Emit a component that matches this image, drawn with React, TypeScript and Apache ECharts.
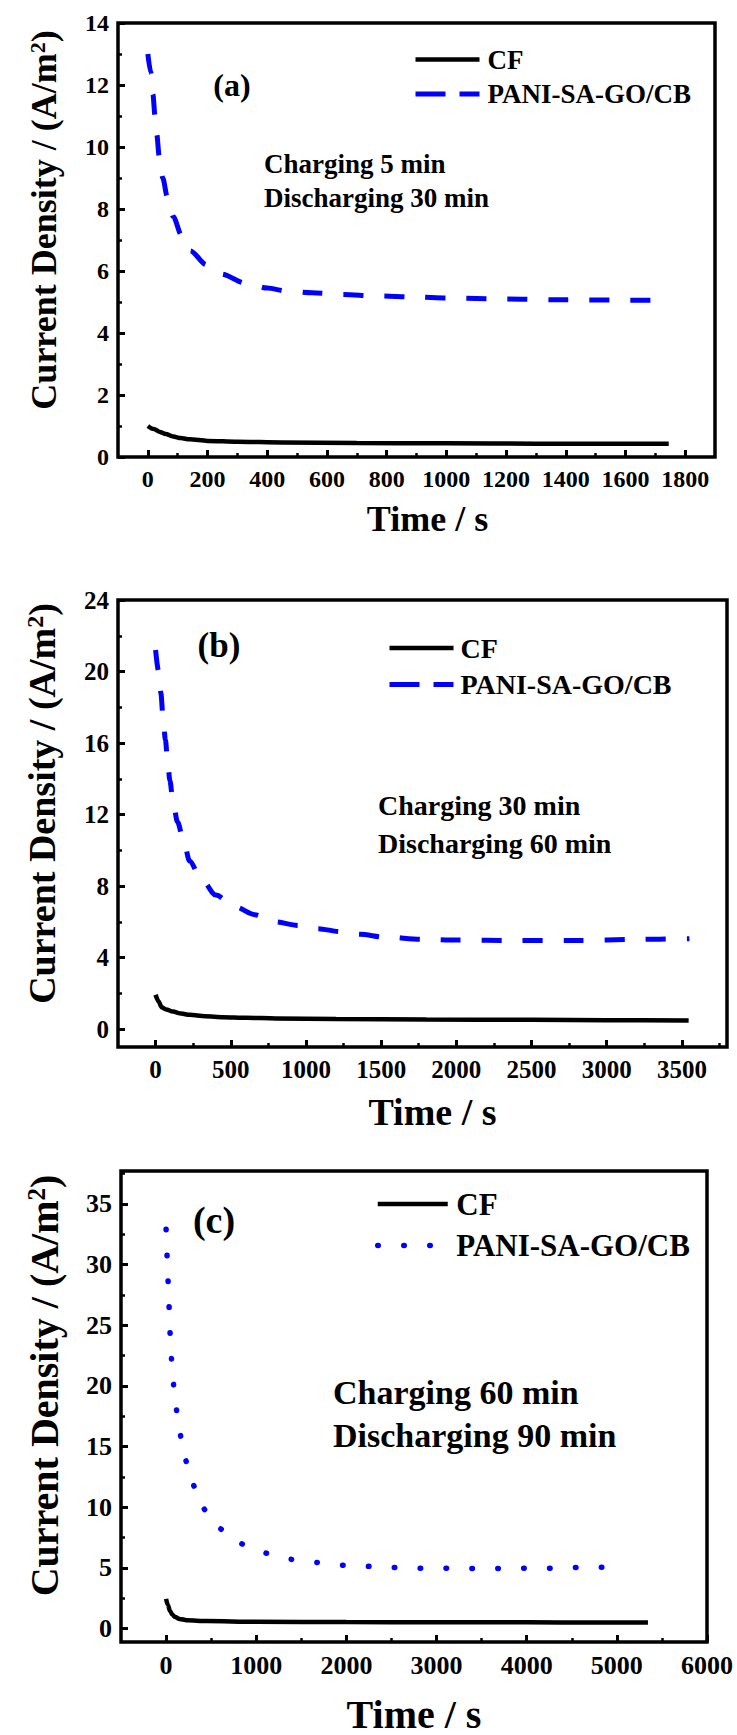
import React, { useEffect, useRef } from "react";
import * as echarts from "echarts";

// ---------- data ----------
// Panel (a): charging 5 min / discharging 30 min
const aCfT = [0, 20, 40, 60, 85, 110, 140, 200, 300, 450, 700, 1000, 1300, 1745];
const aCfY = [1.0, 0.9, 0.81, 0.74, 0.66, 0.61, 0.57, 0.52, 0.49, 0.47, 0.45, 0.44, 0.43, 0.43];
const aPaniT = [0, 10, 17, 24, 30, 38, 50, 65, 85, 113, 142, 197, 245, 330, 400, 466, 550, 650, 766, 900, 1000, 1200, 1400, 1600, 1745];
const aPaniY = [13.0, 12.4, 11.7, 11.0, 10.4, 9.7, 9.0, 8.4, 7.75, 7.15, 6.65, 6.2, 5.9, 5.6, 5.45, 5.35, 5.3, 5.24, 5.2, 5.16, 5.13, 5.1, 5.07, 5.06, 5.06];

// Panel (b): charging 30 min / discharging 60 min
const bCfT = [0, 20, 40, 70, 115, 170, 226, 330, 450, 600, 800, 1200, 1800, 2500, 3000, 3545];
const bCfY = [1.92, 1.55, 1.22, 1.1, 0.98, 0.87, 0.8, 0.72, 0.67, 0.63, 0.6, 0.57, 0.54, 0.52, 0.5, 0.48];
const bPaniT = [0, 20, 35, 50, 65, 80, 95, 115, 145, 185, 226, 300, 400, 525, 660, 790, 950, 1080, 1225, 1360, 1520, 1780, 2000, 2400, 2800, 3200, 3550];
const bPaniY = [21.2, 20.0, 18.8, 17.4, 16.2, 15.0, 13.9, 12.8, 11.6, 10.6, 9.4, 8.45, 7.5, 6.85, 6.4, 6.0, 5.8, 5.62, 5.45, 5.3, 5.15, 5.02, 4.98, 4.96, 4.96, 5.02, 5.06];

// Panel (c): charging 60 min / discharging 90 min
const cCfT = [0, 20, 44, 70, 100, 150, 230, 450, 1000, 2000, 3000, 4000, 4770, 5345];
const cCfY = [2.45, 1.95, 1.45, 1.15, 0.95, 0.8, 0.7, 0.62, 0.56, 0.54, 0.53, 0.52, 0.51, 0.5];
const cPaniT = [0, 11, 22, 33, 44, 59, 81, 114, 158, 214, 295, 408, 565, 815, 1087, 1375, 1662, 1950, 2240, 2525, 2812, 3100, 3400, 3700, 4000, 4250, 4540, 4825, 5115];
const cPaniY = [32.9, 30.7, 28.7, 26.6, 24.4, 22.3, 20.25, 18.1, 16.0, 14.0, 12.0, 10.0, 8.45, 7.06, 6.26, 5.72, 5.46, 5.23, 5.14, 5.04, 4.98, 4.97, 4.96, 4.96, 4.97, 4.98, 5.03, 5.06, 5.08];

// tick values
const aXTicks = [0, 200, 400, 600, 800, 1000, 1200, 1400, 1600, 1800];
const aXMinor = [100, 300, 500, 700, 900, 1100, 1300, 1500, 1700];
const aYTicks = [0, 2, 4, 6, 8, 10, 12, 14];
const aYMinor = [1, 3, 5, 7, 9, 11, 13];
const bXTicks = [0, 500, 1000, 1500, 2000, 2500, 3000, 3500];
const bXMinor = [250, 750, 1250, 1750, 2250, 2750, 3250, 3750];
const bYTicks = [0, 4, 8, 12, 16, 20, 24];
const bYMinor = [2, 6, 10, 14, 18, 22];
const cXTicks = [0, 1000, 2000, 3000, 4000, 5000, 6000];
const cXMinor = [500, 1500, 2500, 3500, 4500, 5500];
const cYTicks = [0, 5, 10, 15, 20, 25, 30, 35];
const cYMinor = [2.5, 7.5, 12.5, 17.5, 22.5, 27.5, 32.5, 37.5];

const names = ["CF", "PANI-SA-GO/CB"];
const panelTags = ["(a)", "(b)", "(c)"];
const notes = [
  ["Charging 5 min", "Discharging 30 min"],
  ["Charging 30 min", "Discharging 60 min"],
  ["Charging 60 min", "Discharging 90 min"],
];

const zip = (t: number[], y: number[]) => t.map((v, i) => [v, y[i]]);

const FONT = "Liberation Serif, Times New Roman, serif";
const BLUE = "#0000ff";
const DOT_PERIOD = 26;

const panels = [
  {
    grid: { left: 118, top: 23, width: 597, height: 434 },
    xMin: -100, xMax: 1900, yMin: 0, yMax: 14,
    xT: aXTicks, xM: aXMinor, yT: aYTicks, yM: aYMinor,
    cf: zip(aCfT, aCfY), pani: zip(aPaniT, aPaniY),
    tickFont: 24, titleFont: 36, xNameGap: 44, xNamePad: 22, yNameGap: 56, yShift: 40,
    legend: { left: 413, top: 46, font: 27, w: 64, gap: 7.5, pad: 3 },
    paniStyle: { type: [20, 21], width: 5, cap: "butt" },
    paniSmooth: 0.3 as any,
    legendPani: { type: [30, 14] },
    tag: { x: 232, y: 85, font: 32 },
    note: { x: 264, y1: 164, y2: 197.5, font: 27 },
  },
  {
    grid: { left: 118, top: 600, width: 609, height: 447 },
    xMin: -250, xMax: 3800, yMin: -1, yMax: 24,
    xT: bXTicks, xM: bXMinor, yT: bYTicks, yM: bYMinor,
    cf: zip(bCfT, bCfY), pani: zip(bPaniT, bPaniY),
    tickFont: 25, titleFont: 38, xNameGap: 46, xNamePad: 20, yNameGap: 57, yShift: 40,
    legend: { left: 387, top: 634, font: 28, w: 64, gap: 8.6, pad: 2 },
    paniStyle: { type: [20, 21], width: 5, cap: "butt" },
    paniSmooth: 0.3 as any,
    legendPani: { type: [30, 14] },
    tag: { x: 219, y: 645, font: 35 },
    note: { x: 378, y1: 805.5, y2: 843, font: 28 },
  },
  {
    grid: { left: 121, top: 1171, width: 586, height: 474 },
    xMin: -500, xMax: 6000, yMin: -1.1, yMax: 37.7,
    xT: cXTicks, xM: cXMinor, yT: cYTicks, yM: cYMinor,
    cf: zip(cCfT, cCfY), pani: zip(cPaniT, cPaniY),
    tickFont: 26, titleFont: 40, xNameGap: 52, xNamePad: 0, yNameGap: 57, yShift: 42,
    legend: { left: 375, top: 1188.5, font: 31, w: 70, gap: 10.4, pad: 3.5 },
    paniStyle: { type: [0.5, DOT_PERIOD - 0.5], width: 5.5, cap: "round" },
    paniSmooth: false as any,
    legendPani: { type: [0.5, DOT_PERIOD - 0.5], cap: "round" },
    tag: { x: 214, y: 1220, font: 38 },
    note: { x: 333, y1: 1392, y2: 1435.5, font: 34 },
  },
];

const plain = (v: number) => String(v);

function buildOption() {
  const grid: any[] = [];
  const xAxis: any[] = [];
  const yAxis: any[] = [];
  const series: any[] = [];
  const legend: any[] = [];
  const graphic: any[] = [];

  panels.forEach((p, i) => {
    grid.push({
      ...p.grid,
      show: true,
      borderColor: "#000",
      borderWidth: 3.5,
      backgroundColor: "transparent",
    });
    const labelStyle = {
      fontFamily: FONT,
      fontWeight: "bold",
      fontSize: p.tickFont,
      color: "#000",
      formatter: plain,
    };
    xAxis.push({
      type: "value",
      gridIndex: i,
      position: "bottom",
      min: p.xMin,
      max: p.xMax,
      axisLine: { show: false, onZero: false },
      axisTick: { show: true, inside: true, length: 7, lineStyle: { width: 3, color: "#000" }, customValues: p.xT },
      axisLabel: { ...labelStyle, margin: 10, customValues: p.xT },
      splitLine: { show: false },
      name: "Time / s",
      nameLocation: "middle",
      nameGap: p.xNameGap,
      nameTextStyle: {
        fontFamily: FONT,
        fontWeight: "bold",
        fontSize: p.titleFont,
        color: "#000",
        padding: [0, 0, 0, p.xNamePad],
      },
    });
    xAxis.push({
      type: "value",
      gridIndex: i,
      position: "bottom",
      min: p.xMin,
      max: p.xMax,
      axisLine: { show: false, onZero: false },
      axisTick: { show: true, inside: true, length: 4, lineStyle: { width: 2.5, color: "#000" }, customValues: p.xM },
      axisLabel: { show: false },
      splitLine: { show: false },
    });
    yAxis.push({
      type: "value",
      gridIndex: i,
      position: "left",
      min: p.yMin,
      max: p.yMax,
      axisLine: { show: false, onZero: false },
      axisTick: { show: true, inside: true, length: 7, lineStyle: { width: 3, color: "#000" }, customValues: p.yT },
      axisLabel: { ...labelStyle, margin: 9, customValues: p.yT },
      splitLine: { show: false },
      name: "{t|Current Density / (A/m}{s|2}{t|)}",
      nameLocation: "middle",
      nameGap: p.yNameGap,
      nameTextStyle: {
        padding: [0, 0, 0, p.yShift],
        rich: {
          t: { fontFamily: FONT, fontWeight: "bold", fontSize: p.titleFont, color: "#000" },
          s: {
            fontFamily: FONT,
            fontWeight: "bold",
            fontSize: Math.round(p.titleFont * 0.62),
            lineHeight: Math.round(p.titleFont * 0.45),
            verticalAlign: "top",
            color: "#000",
          },
        },
      },
    });
    yAxis.push({
      type: "value",
      gridIndex: i,
      position: "left",
      min: p.yMin,
      max: p.yMax,
      axisLine: { show: false, onZero: false },
      axisTick: { show: true, inside: true, length: 4, lineStyle: { width: 2.5, color: "#000" }, customValues: p.yM },
      axisLabel: { show: false },
      splitLine: { show: false },
    });

    series.push({
      id: "cf" + i,
      name: names[0],
      type: "line",
      xAxisIndex: i * 2,
      yAxisIndex: i * 2,
      data: p.cf,
      symbol: "none",
      smooth: 0.3,
      smoothMonotone: "x",
      lineStyle: { color: "#000", width: 4.5 },
      itemStyle: { color: "#000" },
      z: 3,
    });
    series.push({
      id: "pani" + i,
      name: names[1],
      type: "line",
      xAxisIndex: i * 2,
      yAxisIndex: i * 2,
      data: p.pani,
      symbol: "none",
      smooth: p.paniSmooth,
      smoothMonotone: "x",
      lineStyle: { color: BLUE, width: p.paniStyle.width, type: p.paniStyle.type, cap: p.paniStyle.cap },
      itemStyle: { color: BLUE },
      z: 2,
    });

    legend.push({
      orient: "vertical",
      left: p.legend.left,
      top: p.legend.top,
      padding: 0,
      itemWidth: p.legend.w,
      itemHeight: 14,
      itemGap: p.legend.gap,
      selectedMode: false,
      itemStyle: { opacity: 0 },
      textStyle: {
        fontFamily: FONT,
        fontWeight: "bold",
        fontSize: p.legend.font,
        color: "#000",
        padding: [0, 0, 0, p.legend.pad],
      },
      data: [
        { name: names[0], itemStyle: { opacity: 0 }, lineStyle: { color: "#000", width: 4.5, type: "solid" } },
        {
          name: names[1],
          itemStyle: { opacity: 0 },
          lineStyle: { color: BLUE, width: p.paniStyle.width, ...p.legendPani },
        },
      ],
    });

    const txt = (x: number, y: number, text: string, size: number, align: string) => ({
      type: "text",
      x,
      y,
      style: {
        text,
        fontFamily: FONT,
        fontWeight: "bold",
        fontSize: size,
        fill: "#000",
        textAlign: align,
        textVerticalAlign: "middle",
      },
    });
    graphic.push(txt(p.tag.x, p.tag.y, panelTags[i], p.tag.font, "center"));
    graphic.push(txt(p.note.x, p.note.y1, notes[i][0], p.note.font, "left"));
    graphic.push(txt(p.note.x, p.note.y2, notes[i][1], p.note.font, "left"));
  });

  return {
    animation: false,
    backgroundColor: "#fff",
    grid,
    xAxis,
    yAxis,
    series,
    legend,
    graphic,
  };
}

export default function App() {
  const ref = useRef<HTMLDivElement>(null);
  useEffect(() => {
    if (!ref.current) return;
    const chart = echarts.init(ref.current, null, { renderer: "svg" });
    chart.setOption(buildOption() as any);
    // fit the dot period of panel (c) so the dotted curve ends on a dot
    try {
      const pts = panels[2].pani.map((d) =>
        chart.convertToPixel({ xAxisIndex: 4, yAxisIndex: 4 } as any, d as any) as any
      );
      let len = 0;
      for (let k = 1; k < pts.length; k++) {
        len += Math.hypot(pts[k][0] - pts[k - 1][0], pts[k][1] - pts[k - 1][1]);
      }
      const n = Math.max(1, Math.round(len / DOT_PERIOD));
      const period = len / n;
      chart.setOption({
        series: [{ id: "pani2", lineStyle: { type: [0.5, period - 0.5] } }],
      } as any);
    } catch (e) {
      /* keep default period */
    }
    return () => chart.dispose();
  }, []);
  return (
    <div
      ref={ref}
      style={{ position: "absolute", left: 0, top: 0, width: 737, height: 1735, background: "#fff" }}
    />
  );
}
